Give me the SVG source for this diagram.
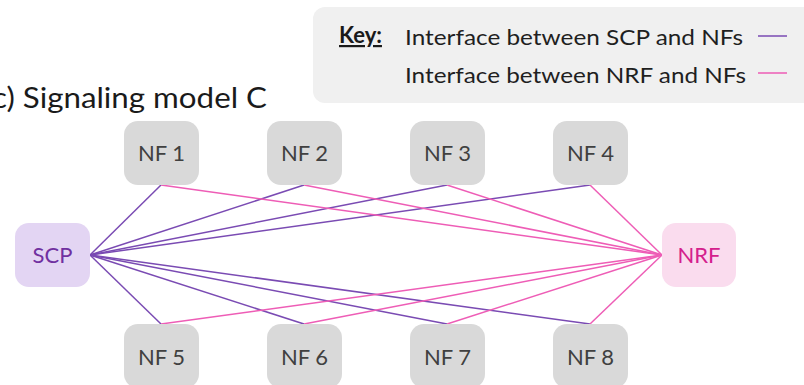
<svg xmlns="http://www.w3.org/2000/svg" width="804" height="385" viewBox="0 0 804 385">
<style>
.nf rect{fill:#d9d9d9}
.nf text{font-family:Lato,"Open Sans",sans-serif;font-size:22px;fill:#404040;text-anchor:middle}
.p{stroke:#7a4bb3;stroke-width:1.5;fill:none}
.k{stroke:#ee5db6;stroke-width:1.5;fill:none}
.lbl{font-family:Lato,"Open Sans",sans-serif;font-size:22px;fill:#1f1f1f}
</style>
<rect width="804" height="385" fill="#ffffff"/>
<g id="key">
<rect x="313" y="7" width="510" height="96" rx="12" fill="#f0f0f0"/>
<text x="339" y="43" font-family="Lato,'Open Sans',sans-serif" font-size="22" font-weight="bold" fill="#1a1a1a" text-decoration="underline">Key:</text>
<text class="lbl" x="405" y="45" textLength="338" lengthAdjust="spacingAndGlyphs">Interface between SCP and NFs</text>
<text class="lbl" x="405" y="83" textLength="341" lengthAdjust="spacingAndGlyphs">Interface between NRF and NFs</text>
<line class="p" x1="758" y1="36" x2="787" y2="36"/>
<line class="k" x1="758" y1="73" x2="787" y2="73"/>
</g>
<text id="title" x="-8" y="108" font-family="Lato,'Open Sans',sans-serif" font-size="29" fill="#1a1a1a" textLength="275" lengthAdjust="spacingAndGlyphs">c) Signaling model C</text>
<g id="connectors">
<line class="p" x1="90" y1="255" x2="161" y2="185"/>
<line class="p" x1="90" y1="255" x2="304" y2="185"/>
<line class="p" x1="90" y1="255" x2="447" y2="185"/>
<line class="p" x1="90" y1="255" x2="590" y2="185"/>
<line class="p" x1="90" y1="255" x2="161" y2="324"/>
<line class="p" x1="90" y1="255" x2="304" y2="324"/>
<line class="p" x1="90" y1="255" x2="447" y2="324"/>
<line class="p" x1="90" y1="255" x2="590" y2="324"/>
<line class="k" x1="662" y1="255" x2="161" y2="185"/>
<line class="k" x1="662" y1="255" x2="304" y2="185"/>
<line class="k" x1="662" y1="255" x2="447" y2="185"/>
<line class="k" x1="662" y1="255" x2="590" y2="185"/>
<line class="k" x1="662" y1="255" x2="161" y2="324"/>
<line class="k" x1="662" y1="255" x2="304" y2="324"/>
<line class="k" x1="662" y1="255" x2="447" y2="324"/>
<line class="k" x1="662" y1="255" x2="590" y2="324"/>
</g>
<g id="scp"><rect x="15" y="223" width="75" height="64" rx="14" fill="#e3d5f3"/><text x="52.5" y="263" font-family="Lato,'Open Sans',sans-serif" font-size="22" fill="#7030a0" text-anchor="middle">SCP</text></g>
<g id="nrf"><rect x="662" y="223" width="74" height="64" rx="14" fill="#fadcee"/><text x="699" y="263" font-family="Lato,'Open Sans',sans-serif" font-size="22" fill="#d4208c" text-anchor="middle">NRF</text></g>
<g id="nf1" class="nf"><rect x="124" y="121" width="75" height="64" rx="14"/><text x="161.5" y="161">NF 1</text></g>
<g id="nf2" class="nf"><rect x="267" y="121" width="75" height="64" rx="14"/><text x="304.5" y="161">NF 2</text></g>
<g id="nf3" class="nf"><rect x="410" y="121" width="75" height="64" rx="14"/><text x="447.5" y="161">NF 3</text></g>
<g id="nf4" class="nf"><rect x="553" y="121" width="75" height="64" rx="14"/><text x="590.5" y="161">NF 4</text></g>
<g id="nf5" class="nf"><rect x="124" y="324" width="75" height="64" rx="14"/><text x="161.5" y="365">NF 5</text></g>
<g id="nf6" class="nf"><rect x="267" y="324" width="75" height="64" rx="14"/><text x="304.5" y="365">NF 6</text></g>
<g id="nf7" class="nf"><rect x="410" y="324" width="75" height="64" rx="14"/><text x="447.5" y="365">NF 7</text></g>
<g id="nf8" class="nf"><rect x="553" y="324" width="75" height="64" rx="14"/><text x="590.5" y="365">NF 8</text></g>
</svg>
